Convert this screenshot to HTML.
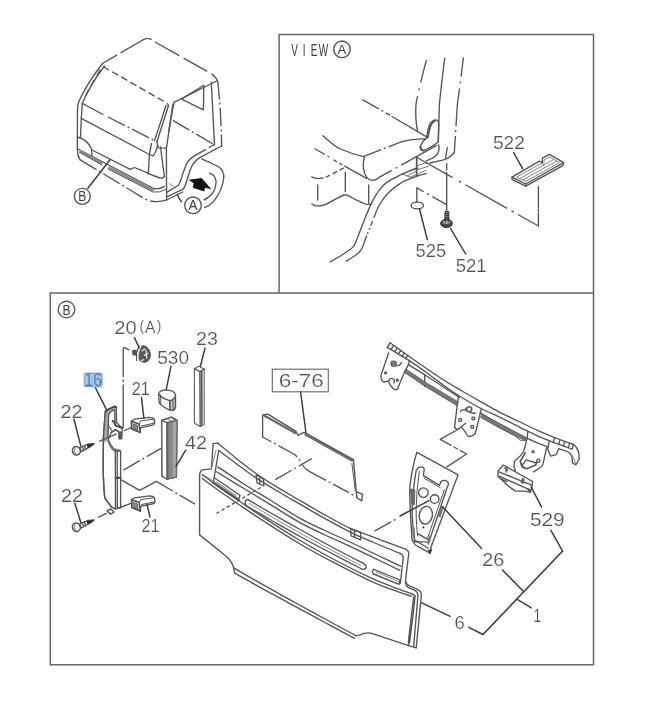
<!DOCTYPE html>
<html lang="en"><head><meta charset="utf-8"><title>Parts diagram</title>
<style>
html,body{margin:0;padding:0;background:#fff;}
body{width:658px;height:713px;overflow:hidden;font-family:"Liberation Sans",sans-serif;}
svg{display:block}
.f{fill:none;stroke:#666;stroke-width:1.5}
.l{fill:none;stroke:#555;stroke-width:1.35;stroke-linecap:round;stroke-linejoin:round}
.w{fill:#fff;stroke:#555;stroke-width:1.35;stroke-linejoin:round}
.h{fill:none;stroke:#7a7a7a;stroke-width:.9}
.ld{fill:none;stroke:#3c3c3c;stroke-width:1.45;stroke-linecap:round}
.sd{fill:none;stroke:#555;stroke-width:1.35;stroke-dasharray:3.5 2.5}
.d{fill:none;stroke:#555;stroke-width:1.35;stroke-dasharray:19 3 2 3}
.da{fill:none;stroke:#555;stroke-width:1.35;stroke-dasharray:9 3}
.k{fill:none;stroke:#444;stroke-width:2}
.g{fill:#9a9a9a;stroke:none}
.b{fill:#111;stroke:none}
.t{font-family:"Liberation Sans",sans-serif;fill:#505050;stroke:#fff;stroke-width:.2;paint-order:fill}
.t{filter:grayscale(1)}
.c{font-family:"Liberation Sans",sans-serif;fill:#3c3c3c;filter:grayscale(1)}
</style></head><body>
<svg width="658" height="713" viewBox="0 0 658 713">
<rect width="658" height="713" fill="#fff"/>
<g id="art" style="filter:blur(.55px)">
<g class="frame">
<path class="f" d="M279.1 293.1 V34.4 H593.5 V664.8 H50.3 V293.1 H593.5" />
</g>
<g id="truck">
<path class="da" d="M102.5 63.5 L141 41 Q144.5 38.6 147.8 38.4" style="stroke-dasharray:17 4 40"/>
<path class="da" d="M147.8 38.4 Q151 38.8 154 41.5 L211 73.5 Q216.5 77 217.7 82" style="stroke-dasharray:4 4 28 5 27 5 30"/>
<path class="da" d="M103 66.5 L165 102 Q169 104 168.5 106.5" style="stroke-dasharray:7 3.5"/>
<path class="l" d="M102.5 63.5 Q88 82 79 101 Q77.5 105 77.5 110 L77.3 150 Q77.5 156 80.2 160" />
<path class="l" d="M104.5 66 Q90 85 82.3 103.4 L81.3 118.3 L80.5 137" />
<path class="l" d="M100 70 L97 75 M94 80 L91 85.5 M88.5 90 L86 95" />
<path class="l" d="M82.3 103.4 L103 114.5" />
<path class="d" d="M108 117 L156.8 141.7" />
<path class="l" d="M81.3 118.3 L149.4 154.5" />
<path class="l" d="M168.5 105.5 L157 141.5 M166 105.5 L154.6 140.6" />
<path class="l" d="M156.8 141.7 L158.4 147.8 L166.4 148.2 M151.5 143.5 L149.4 154.5 L153 156 Q156.5 152 157.5 145" />
<path class="l" d="M77.5 137 Q88 140 91.5 149 L92 157.5" />
<path class="l" d="M92 150 L130.2 169.4 L134.5 167.5 L149.4 173.6" />
<path class="l" d="M149.4 154.5 L148.3 173.6 M160.5 147 L164.3 176" />
<path class="l" d="M78 149 L153.6 188.5 Q159 190 164.3 186.4" />
<path class="k" d="M79.8 150.8 L102.4 163.6 M108.5 167.4 L153.5 190.4" style="stroke:#8a8a8a;stroke-width:2.6"/>
<path class="l" d="M79.6 152.4 L102 165 M108 169 L153 192 Q159.5 193 165.5 189.6" style="stroke-width:1"/>
<path class="l" d="M148.3 173.6 L160 178 Q163 178.5 164.5 176.5" />
<path class="d" d="M80.2 159.8 L145.1 199.1 Q155 203.5 166.4 200.2" />
<path class="l" d="M166.4 148.1 L166.6 200" />
<path class="l" d="M174 102.3 L216.6 81 M174 102.3 Q170.5 120 166.4 148.1" />
<path class="l" d="M172.8 104.5 L168.8 131" />
<path class="l" d="M181.5 99.1 L203.8 85.3 L203.4 109.8 Z" />
<path class="l" d="M211.3 82.1 L214.5 144.9" />
<path class="d" d="M217.7 81 Q221 110 221.7 147" />
<path class="d" d="M173 120.4 L214.5 144.9" />
<path class="l" d="M221.5 146 L200.2 157.4 Q193.3 161.5 190.3 169.5 L186.5 181.7 Q184.5 188 182.7 189.3 L166.7 196.9" />
<path class="l" d="M214.6 144.4 L209 147.5" />
<path class="d" d="M206 149.3 L195.6 155.1" />
<path class="l" d="M195.6 155.1 Q188.5 159.5 186.5 164 L182.7 174.1 Q180 183 178.1 185.5 L166.7 192.3" />
<path class="l" d="M166.6 200 L182.7 192" />
<path class="h" d="M169 183.5 L174 186.5" />
<path class="l" d="M201.7 158.9 L218.4 166.5 Q224.5 171 223.7 178 Q222.5 190 213.8 201.4 Q209.5 206 204.7 207.5" />
<path class="l" d="M209.3 173.3 Q215 173.8 216.1 181.7 Q215.5 189 213.1 192.3 Q209.5 197.5 204 199.9" />
<path class="b" d="M188.7 179.8 L201.6 177.9 L211.5 189.3 L205 187.8 L204.3 191.6 L192.9 187.8 L193.6 183.2 Z" />
<path class="ld" d="M110 159.8 L87.7 188.5" />
<circle class="l" cx="82.3" cy="196.3" r="8"/>
<circle class="l" cx="193" cy="205.3" r="8.3"/>
<path class="ld" d="M177.4 194.6 Q179 199 181.5 201.8" />
<text class="c" x="78.3" y="201.4" font-size="14" textLength="8" lengthAdjust="spacingAndGlyphs" >B</text>
<text class="c" x="188.6" y="210.4" font-size="14" textLength="9" lengthAdjust="spacingAndGlyphs" >A</text>
</g>
<g id="viewa">
<path class="d" d="M426.4 60.2 Q419 88 416 104 Q415 118 417.5 131" style="stroke-dasharray:23 6 2 6 60"/>
<path class="l" d="M444.7 58.1 Q441 88 439.4 104 L438.3 142" />
<path class="d" d="M463.4 57.4 Q459.5 90 457.4 104 L454.3 152.8" style="stroke-dasharray:19 5 2 5 38 4 2 4 30"/>
<path class="l" d="M454.3 152.8 Q449 158.5 442.6 160.2 L430 163" />
<path class="l" d="M447.3 147.7 L445.5 158" />
<path class="l" d="M426.6 137.9 Q428 128 429.8 124 Q432 120.3 435.1 119.8 Q438.5 120 438.7 123 L438.3 142.1 Q431 148 423.4 150.6 Q419.5 150 420.2 146.4 Q422 141.5 426.6 137.9 Z" />
<path class="l" d="M427.9 137.6 Q429.5 128 431.3 124.4 Q433 121.4 435 120.8" style="stroke-width:1.8"/>
<path class="l" d="M420.6 146.8 Q421 150.5 423.6 150.6" style="stroke-width:1.8"/>
<path class="d" d="M362.3 99.6 L390 115.2" />
<path class="l" d="M392 116.5 L426.6 136.8" />
<path class="l" d="M400.6 142.1 Q414 138.5 425.5 138.9" />
<path class="l" d="M323 135.7 Q332 144 339 148.5 Q351 153.5 363.4 156.6" />
<path class="d" d="M363.4 156.6 L400.6 142.1" />
<path class="l" d="M364.5 157 Q362.8 163 363.4 167.7 Q364 173.5 366.6 177.2 Q369 180.5 373.5 180.4 Q377 179.5 379.4 177.2" />
<path class="d" d="M379.4 177.2 L437.1 145.2" style="stroke-dasharray:14 4.5 2 4.5 100"/>
<path class="d" d="M314.5 148.5 L332 158.6" style="stroke-dasharray:12 3 2 3 10"/>
<path class="sd" d="M333.5 159.8 L342.5 165" style="stroke-dasharray:4 2.5"/>
<path class="l" d="M344.6 166.2 L366.6 178.3" />
<path class="l" d="M311.8 176.8 C312.3 177.0 313.9 177.9 315.0 178.2 C316.1 178.5 317.2 178.6 318.5 178.6 C319.8 178.6 322.2 178.1 323.0 178.0" />
<path class="sd" d="M325.5 177.5 L343.8 167.9" style="stroke-dasharray:5 3"/>
<path class="l" d="M438.6 144.8 Q440.4 151 435.7 156 Q431.5 159.4 426.1 160.8" />
<path class="l" d="M317.7 185 V200 M345.3 172.3 V191.5 M368.7 185 V203.2" />
<path class="l" d="M311.8 204.1 C312.3 204.3 313.9 205.2 315.0 205.5 C316.1 205.8 316.8 206.1 318.5 205.9 C320.2 205.8 322.6 205.7 325.3 204.6 C328.1 203.5 331.8 201.0 335.0 199.4 C338.2 197.8 342.1 195.5 344.6 195.0 C347.1 194.5 348.2 195.8 350.0 196.6 C351.8 197.4 353.0 198.3 355.6 199.6 C358.2 200.8 363.1 203.3 365.7 204.1 C368.3 204.8 370.5 204.1 371.5 204.1" />
<path class="l" d="M417.7 168.1 C416.1 168.7 410.9 170.4 408.0 171.6 C405.1 172.8 403.4 173.5 400.0 175.2 C396.6 176.9 390.8 179.7 387.5 181.9 C384.2 184.1 382.4 186.3 380.5 188.6 C378.6 190.8 377.4 192.7 375.8 195.4 C374.2 198.1 372.8 199.9 370.7 204.6 C368.6 209.3 365.5 217.2 363.0 223.5 C360.5 229.8 357.2 238.7 355.6 242.5 C354.0 246.3 354.4 245.3 353.5 246.4 C352.6 247.5 352.8 247.6 350.5 249.2 C348.2 250.8 343.4 254.1 340.0 256.2 C336.6 258.3 331.9 260.9 330.3 261.9" />
<path class="l" d="M426.2 173.4 C423.8 174.2 416.4 176.3 412.0 178.0 C407.6 179.7 404.1 181.0 400.0 183.6 C395.9 186.2 391.0 190.0 387.5 193.7 C384.0 197.3 381.3 201.6 379.1 205.5 C376.9 209.4 374.9 215.2 374.1 217.2" />
<path class="d" d="M372.6 221 L367.4 234" style="stroke-dasharray:5 2.5 2 2.5 20"/>
<path class="l" d="M366.6 236.0 C365.9 237.9 363.6 244.7 362.3 247.5 C361.0 250.3 360.5 251.0 358.9 252.6 C357.3 254.2 354.6 255.9 352.5 257.3 C350.4 258.7 347.3 260.4 346.3 261.0" />
<path class="l" d="M416.7 157.4 V176.4" style="stroke-width:1.7"/>
<path class="l" d="M402.9 174 L416.6 167.6 M407 176 L416.6 171 M409.7 177.2 L416 175 M402.9 174 L409.7 177.2 M417.2 165.6 L427.5 162.2 M417.2 169.7 L428.8 166.2 M417.9 173.8 L426.1 170.4" style="stroke-width:.9;stroke:#666"/>
<path class="d" d="M417 157.5 L538.4 226" style="stroke-dasharray:41 7 2.5 5 48 5 2.5 5 60"/>
<path class="l" d="M538.4 226 V213 M538.4 207.5 V186.5" />
<path class="l" d="M538.4 211.5 V209" />
<path class="d" d="M446.7 163.2 V210.5" style="stroke-dasharray:7.3 1.6 60"/>
<path class="l" d="M416.8 201.8 V187.8" />
<path class="d" d="M416.8 187.8 L446.6 204.6" style="stroke-dasharray:8 4 2 4 60"/>
<ellipse class="l" cx="417.3" cy="205.5" rx="6.2" ry="3.4"/>
<path class="ld" d="M419.5 209 L427.3 239.5" />
<path class="g" d="M445 211.6 Q446.8 210.2 448.8 211.6 V221 H445 Z" style="fill:#777;stroke:#3a3a3a;stroke-width:1"/>
<path class="l" d="M445 213.5 H448.8 M445 215.5 H448.8 M445 217.5 H448.8 M445 219.5 H448.8" style="stroke-width:.8;stroke:#333"/>
<ellipse cx="446.5" cy="223.4" rx="5.9" ry="4.2" fill="#4a4a4a" stroke="#333" stroke-width="1"/>
<ellipse cx="446.5" cy="222.2" rx="3.4" ry="1.6" fill="#bbb"/>
<path class="l" d="M445.4 218 V222.6 M448.2 218 V222.6" style="stroke-width:1;stroke:#333"/>
<path class="ld" d="M450.6 228.6 L465.7 254" />
<path class="w" d="M512 177.1 L539.4 161.2 L542.4 162.7 L542.4 158.1 L549.3 154.3 L563.7 162.7 L562.9 165.7 L525.7 186.2 L512 179.4 Z" />
<path class="l" d="M512 177.1 L525.7 184 L563.7 162.7 M525.7 184 V186.2" />
<path class="h" d="M516.5 177.2 L541 163.4 L544 164.6 L544 160 L549.5 157 L559.5 162.6 L526 181.4 Z" />
<path class="h" d="M519.5 178.7 L553.8 159.4 M522.5 180.2 L556.6 161 " />
<path class="ld" d="M513.7 152.6 L522.7 168.8" />
</g>
<g id="leftparts">
<path class="l" d="M129 349.8 L124.6 347.6 Q123.3 347.4 123.2 349 V376.5 M123.2 385 V427.5" />
<path class="l" d="M123.2 380 V381.5" />
<g>
<path d="M132 350.2 L136.4 349.4 L136.6 355.8 L132.4 355.2 Z" fill="#555"/>
<ellipse cx="143.6" cy="354" rx="6.7" ry="8.4" transform="rotate(-14 143.6 354)" fill="#5a5a5a" stroke="#444" stroke-width=".8"/>
<path d="M140.6 346.2 Q136.7 352.5 138 360.6" fill="none" stroke="#f4f4f4" stroke-width="1.8" stroke-linecap="round"/>
<path d="M139.2 345.9 Q135.1 352.6 136.6 361" fill="none" stroke="#4a4a4a" stroke-width="1"/>
<path d="M142.2 350.8 L144.6 348.8 M144.6 355.4 L147.8 353.4 M141.4 360.8 L143.6 359.6 M145.8 350 L146.8 358" fill="none" stroke="#e0e0e0" stroke-width="1.3" stroke-linecap="round"/>
</g>
<path class="ld" d="M134.4 337.6 L139.2 347.8" />
<path class="w" d="M158.6 393.8 Q159.5 390.4 165.4 389.9 Q174.5 390.2 175.5 395 L175.5 407.3 Q174.5 410.6 172.1 410.7 Q167 409.6 164.3 407.3 Q160.5 404.8 159.2 402.8 Z" />
<path class="l" d="M160.6 395 L160.9 404.4" style="stroke-width:1"/>
<path class="l" d="M159.5 394.6 Q162 398.5 169.9 400.6 Q174 400 175.3 396.6" />
<path class="l" d="M169.9 400.6 V410" style="stroke-width:1.8"/>
<path class="l" d="M172.2 400.2 V410.4 M173.9 399.2 V409.6" style="stroke-width:1"/>
<path class="ld" d="M170.9 366.3 L166.3 389.3" />
<path class="w" d="M194.4 368.7 L198.9 366.3 L204.3 369.2 V424.8 L200.2 426.5 L194.4 423.3 Z" style="stroke:#5e5e5e;stroke-width:1.1"/>
<path class="g" d="M199.8 371.5 L204.3 369.2 V424.8 L200.2 426.5 Z" style="fill:#c4c4c4"/>
<path class="l" d="M194.4 368.7 L199.8 371.5 L204.3 369.2 M199.8 371.5 L200.2 426.5 M201.6 371 L201.9 425.6" />
<path class="ld" d="M205 348.1 L200.4 366.2" />
<path class="w" d="M161.6 420.3 L171.4 417.2 L177 420.3 L176.4 477 L167 479.2 L161.8 476 Z" />
<defs><linearGradient id="g42" x1="0" x2="1" y1="0" y2="0"><stop offset="0" stop-color="#6e6e6e"/><stop offset=".35" stop-color="#8e8e8e"/><stop offset="1" stop-color="#b4b4b4"/></linearGradient></defs>
<path class="g" d="M166.8 422.6 L177 420.3 L176.4 477 L167 479.2 Z" style="fill:url(#g42)"/>
<path class="l" d="M161.6 420.3 L166.8 422.6 L177 420.3 M166.8 422.6 L167 479.2" />
<path class="h" d="M167.2 419.2 L171.6 420.9 M171.4 417.2 L173.2 420" />
<path class="h" d="M168.8 423 V478.6 M171.5 422.4 V478" style="stroke:#777;stroke-width:.7"/>
<path class="l" d="M161.6 420.3 L171.4 417.2 L177 420.3 L176.4 477 L167 479.2 L161.8 476 Z" style="stroke:#6a6a6a"/>
<path class="ld" d="M185.8 449.9 L175.9 466.6" />
<path class="w" d="M131.4 421.2 L134.4 419.2 L149.3 417.3 Q153.0 417.3 154.2 419.1 L154.8 423.4 L153.6 424.9 L140.4 427.8 L140.2 432.5 L131.7 428.8 Z" />
<path class="l" d="M131.4 421.2 L139.0 424.0 L140.2 432.5 L131.7 428.8 Z" style="stroke-width:1.6"/>
<path class="l" d="M139.0 424.0 L140.8 420.9 L153.6 419.1 M141.2 426.0 L153.8 423.2" style="stroke-width:1"/>
<path class="g" d="M133.3 423.8 L137.3 425.3 L137.9 430.0 L133.7 428.3 Z" style="fill:#8a8a8a;stroke:#555;stroke-width:.8"/>
<path class="w" d="M131.6 499.8 L134.6 497.8 L149.5 495.9 Q153.2 495.9 154.4 497.7 L155.0 502.0 L153.8 503.5 L140.6 506.4 L140.4 511.1 L131.9 507.4 Z" />
<path class="l" d="M131.6 499.8 L139.2 502.6 L140.4 511.1 L131.9 507.4 Z" style="stroke-width:1.6"/>
<path class="l" d="M139.2 502.6 L141.0 499.5 L153.8 497.7 M141.4 504.6 L154.0 501.8" style="stroke-width:1"/>
<path class="g" d="M133.5 502.4 L137.5 503.9 L138.1 508.6 L133.9 506.9 Z" style="fill:#8a8a8a;stroke:#555;stroke-width:.8"/>
<path class="ld" d="M141.5 397.6 L143.9 418.3" />
<path class="ld" d="M146.9 504.2 L150 517" />
<path class="w" d="M105.2 411.8 Q109 408.3 114.4 406.6 Q116.1 406.5 116.3 408.4 L116.5 422.6 L122.3 428.2 L121.8 438.7 L119 438.7 L118.8 431.8 L115.4 429.6 L111.2 432.5 L108.2 439.6 Q109.5 445 111.8 447.8 Q113.5 450 115.3 450.5 L120.6 451 L120.6 507.7 L115.3 508.9 L111.5 507 L104.8 498.2 Q103.4 485 103.2 468 Q103.1 455 103.4 442.6 L103.5 436.2 Z" />
<path class="g" d="M105.2 411.8 L103.5 436.2 L102.7 443 L106.5 441.5 L107.9 436.5 L108.6 414.5 Q110 411.5 114.8 409.6 L114.4 406.6 Q109 408.3 105.2 411.8 Z" style="fill:#a8a8a8"/>
<path class="k" d="M105.2 411.8 Q109 408.3 114.4 406.6 Q116.1 406.5 116.3 408.4" />
<path class="l" d="M108.6 414.5 Q110 411.5 114.8 409.6 L115 421" />
<path class="l" d="M108.6 414.5 L108 436.5 M105.2 411.8 L103.5 436.2" />
<path class="k" d="M111.9 420.6 L114.4 421.9 L115.3 425.3 L122.3 428.2" />
<path class="g" d="M119 431.8 H121.7 V438.7 H119 Z" style="fill:#555"/>
<path class="l" d="M111.2 432.5 L115.4 429.6 L118.8 431.8 M109.5 427 L111.5 430" />
<path class="g" d="M108.2 439.6 Q109.5 445 111.8 447.8 Q113.5 450 115.3 450.5 L115.5 453 L111.5 449.5 Q108.5 445.5 107 441 Z" style="fill:#a8a8a8"/>
<path class="l" d="M108.2 439.6 Q109.5 445 111.8 447.8 Q113.5 450 115.3 450.5 L120.6 451" />
<path class="k" d="M108.8 441 Q110.5 446.5 113.5 449 Q115 450.2 119.5 450.6" style="stroke:#777;stroke-width:2.4"/>
<path class="l" d="M115.3 450.5 L115.5 508.6 M117.2 451 L117.4 508.3" />
<path class="k" d="M115.8 477.8 H121.2" />
<path class="l" d="M103.5 436.2 L103.4 442.6 Q103.1 455 103.2 468 Q103.4 485 104.8 498.2 L111.5 507 L115.3 508.9 L120.6 507.7" />
<path class="l" d="M107 510.9 L110.8 509 L114 512.1 L110.8 514.1 Z" style="stroke-width:1.4"/>
<path class="ld" d="M95.5 387.8 L106.6 409.8" />
<path class="w" d="M79.6 447.6 L88 444 L94.2 443.6 L90.4 446.6 L81.4 451.6 Z" />
<path class="b" d="M86.6 444.6 L94.2 443.6 L90.4 446.6 L87.6 448 Z" style="fill:#2a2a2a"/>
<path class="l" d="M82.2 446.6 L83.6 450.2 M84.3 445.7 L85.7 449.2" style="stroke-width:1.4"/>
<ellipse class="w" cx="76.4" cy="450.8" rx="3.9" ry="4.2" transform="rotate(-20 76.4 450.8)" style="stroke-width:1.6"/>
<path class="h" d="M75 448 Q73.6 451 75.6 453.6" />
<path class="w" d="M79.6 524.0 L88 520.4 L94.2 520.0 L90.4 523.0 L81.4 528.0 Z" />
<path class="b" d="M86.6 521.0 L94.2 520.0 L90.4 523.0 L87.6 524.4 Z" style="fill:#2a2a2a"/>
<path class="l" d="M82.2 523.0 L83.6 526.6 M84.3 522.1 L85.7 525.6" style="stroke-width:1.4"/>
<ellipse class="w" cx="76.4" cy="527.2" rx="3.9" ry="4.2" transform="rotate(-20 76.4 527.2)" style="stroke-width:1.6"/>
<path class="h" d="M75 524.4 Q73.6 527.4 75.6 530.0" />
<path class="ld" d="M74 419.3 L80.8 445.9" />
<path class="ld" d="M74.8 503.3 L80.8 522.3" />
<path class="d" d="M99.1 441.4 L131 427.7" />
<path class="l" d="M98.6 517.2 L106.4 513.4 M121.2 507 L131 503.3" />
<path class="d" d="M123.4 470.2 L161 448.4" />
<path class="l" d="M120.8 479.6 L139.6 490.3 L156.4 481.4" />
<path class="d" d="M156.4 481.4 L195 504.1" />
</g>
<g id="grille">
<rect class="f" x="272.3" y="369.2" width="56" height="22.6" style="stroke-width:1.1"/>
<path class="ld" d="M300.6 391.9 L306 433" />
<path class="l" d="M262.6 437 V415 L267.8 414.1 L296 431.4 L297.9 435.3 L304.2 432.4 L353.5 459.7 L356.2 491.6 L362.6 494.4 L361.7 500.8 L357.1 498 L356.2 491.6" />
<path class="k" d="M264 415.6 L296.2 433.4 M304.6 434 L352.8 461" style="stroke:#6a6a6a;stroke-width:2.3"/>
<path class="l" d="M351.9 463.4 L355.3 490.7" style="stroke-width:1"/>
<path class="d" d="M262.6 437 L294.2 454.2 Q298.5 457.5 300.6 462.4 Q304 468.5 309.7 471.6 L357.1 497.1" style="stroke-dasharray:10 3 2 3 22 3 2 3 30 3 2 3 18 3 2 3 30"/>
<path class="l" d="M213.2 443.6 L217.8 443.2" />
<path class="l" d="M217.8 443.2 C221.0 445.8 230.5 453.8 237.0 459.0 C243.5 464.2 250.2 469.4 257.0 474.2 C263.8 479.0 270.8 483.2 278.0 487.6 C285.2 492.0 292.2 495.9 300.0 500.5 C307.8 505.1 316.5 510.3 325.0 515.0 C333.5 519.7 345.2 526.0 351.1 528.9 C357.0 531.8 355.3 530.4 360.6 532.4 C365.9 534.4 375.6 538.0 383.0 540.8 C390.4 543.6 401.6 547.7 405.3 549.1" />
<path class="l" d="M405.3 549.1 Q409 550.5 408.7 554 L405.5 580.5 Q405.8 584.3 408.9 585.7 L417.9 589.7 Q421.6 591.5 421.3 595.5 L416.2 647.9" />
<path class="l" d="M405.3 581.3 Q405.6 585.8 408 587.4 L415.2 590.6 Q418.2 592.3 417.9 596 L413.7 646.4" />
<path class="l" d="M213.2 443.6 L211.4 468.9 L202.3 469.8 Q199.8 471 199.6 475 L199.6 534.9 L226.2 556.2 Q232.5 562 233.6 567.9 L234.7 573.2" />
<path class="l" d="M218.7 450.5 C221.8 452.8 230.8 459.6 237.0 464.2 C243.2 468.8 249.3 473.3 256.1 477.9 C262.9 482.4 270.7 487.1 278.0 491.5 C285.3 495.9 292.2 499.7 300.0 504.2 C307.8 508.7 316.5 513.9 325.0 518.6 C333.5 523.3 342.8 528.5 351.1 532.6 C359.4 536.7 366.9 539.5 375.0 543.0 C383.1 546.5 395.8 551.7 400.0 553.4" />
<path class="l" d="M400 553.4 Q403.6 555 403.2 558 L400.3 583.5" />
<path class="l" d="M218.7 450.5 L213.4 482" />
<path class="h" d="M216.2 449.5 L211.4 468.9" />
<path class="l" d="M217.8 466.9 C222.0 469.7 234.3 478.0 243.0 483.5 C251.7 489.0 260.5 494.2 270.0 500.0 C279.5 505.8 290.8 513.2 300.0 518.3 C309.2 523.4 316.7 526.5 325.0 530.5 C333.3 534.5 341.7 538.1 350.0 542.0 C358.3 545.9 366.6 550.0 375.0 554.0 C383.4 558.0 396.3 564.2 400.6 566.2" />
<path class="l" d="M216.6 471.8 C221.0 474.5 234.1 482.6 243.0 488.0 C251.9 493.4 260.5 498.5 270.0 504.3 C279.5 510.1 290.8 517.5 300.0 522.6 C309.2 527.7 316.7 531.0 325.0 535.0 C333.3 539.0 341.7 542.4 350.0 546.3 C358.3 550.2 366.7 554.3 375.0 558.3 C383.3 562.3 395.7 568.4 399.8 570.4" />
<path class="l" d="M213.2 482.5 L237 498.6" style="stroke-width:2.2"/>
<path class="l" d="M215 478.2 L240 495.3 L238.6 499.8 L236.8 498.8" />
<path class="h" d="M216 481.5 L236.5 495.6" />
<path class="l" d="M256.1 475.1 L263.4 478.8 L263.9 486 L257 482.8 Z M259.4 476.8 L259.8 484" />
<path class="l" d="M350.6 528.5 L360.6 532.4 V539.8 L351.1 535.9 Z M354.6 530.2 V537.2" />
<path class="l" d="M248.0 499.6 C251.7 501.8 261.3 507.5 270.0 512.5 C278.7 517.5 290.0 523.9 300.0 529.5 C310.0 535.1 319.4 540.3 330.0 546.0 C340.6 551.7 358.2 560.7 363.8 563.6 Q367 566 366 568 Q364.5 570.2 361.7 569" />
<path class="l" d="M361.7 569.0 C356.4 566.2 340.3 557.9 330.0 552.5 C319.7 547.1 310.0 542.0 300.0 536.5 C290.0 531.0 278.8 524.5 270.0 519.5 C261.2 514.5 251.2 508.7 247.5 506.5 Q244.5 504.5 245.3 501.5 Q246 499 248 499.6" />
<path class="h" d="M249.0 503.3 C252.5 505.4 261.5 510.8 270.0 515.8 C278.5 520.8 290.0 527.4 300.0 533.0 C310.0 538.6 319.8 543.8 330.0 549.3 C340.2 554.8 355.8 563.0 361.0 565.8" />
<path class="l" d="M373.8 569.3 L400 580 L399 584.3 L373.6 574 Q371 571 373.8 569.3 Z" />
<path class="h" d="M376 572 L398.5 581.5" />
<path class="l" d="M202.3 474.6 C205.2 476.8 213.9 483.6 220.0 488.0 C226.1 492.4 231.4 495.7 238.9 500.8 C246.4 505.9 254.8 511.9 265.0 518.5 C275.2 525.1 288.3 533.6 300.0 540.5 C311.7 547.4 323.3 553.8 335.0 560.0 C346.7 566.2 360.7 573.2 370.2 577.6 C379.7 582.0 385.0 583.9 392.0 586.6 C399.0 589.3 408.7 592.7 412.0 593.9" />
<path class="l" d="M202.3 478.5 C205.2 480.7 213.9 487.2 220.0 491.5 C226.1 495.8 231.4 499.4 238.9 504.5 C246.4 509.6 254.8 515.4 265.0 522.0 C275.2 528.6 288.3 537.1 300.0 544.0 C311.7 550.9 323.5 557.2 335.0 563.2 C346.5 569.2 359.5 575.9 369.0 580.3 C378.5 584.7 385.0 587.0 392.0 589.6 C399.0 592.2 408.0 595.1 411.2 596.2" />
<path class="h" d="M205.9 476 L238.8 498.8" />
<path class="l" d="M412 593.9 L415.2 595.8 L412.9 615.8 L409.5 642.8 L407.8 645.3 M413.6 597 L411.4 616 L408.3 642.5" />
<path class="l" d="M233.6 567.9 C238.3 570.6 251.8 578.4 262.0 584.2 C272.2 590.0 284.5 596.7 295.0 602.5 C305.5 608.3 314.9 613.5 325.0 619.0 C335.1 624.5 350.6 632.8 355.7 635.5 Q358 636.2 363.2 633.6 Q367.5 632.4 371.7 633.4 L407.8 645.3 L416.2 647.9" />
<path class="l" d="M234.7 573.2 C239.2 575.7 251.9 582.8 262.0 588.3 C272.1 593.8 284.5 600.6 295.0 606.3 C305.5 612.0 315.1 617.1 325.0 622.5 C334.9 627.9 349.6 635.8 354.5 638.4" />
<path class="sd" d="M216.3 513.5 L262.6 486.4" />
<path class="d" d="M275.2 479.7 L311.7 458.7" />
</g>
<g id="rail">
<path class="l" d="M390.1 342.8 C394.4 345.9 407.1 355.1 416.0 361.3 C424.9 367.5 435.9 375.1 443.6 380.0 C451.3 384.9 455.9 387.4 462.0 391.0 C468.1 394.6 473.8 397.8 480.1 401.3 C486.4 404.9 493.4 408.9 500.0 412.3 C506.6 415.8 513.7 418.9 520.0 422.0 C526.3 425.1 532.2 428.0 538.0 430.6 C543.8 433.2 548.7 435.3 554.7 437.6 C560.7 439.9 570.7 443.4 573.9 444.5 Q577.5 447.5 578.7 452.7 L579.3 458.8 L575.9 465 L572.5 462.9 L571.8 456.1 Q570 452.5 567 451.3 L558.8 448.8" />
<path class="l" d="M387.3 347.3 C390.9 349.5 402.9 356.6 409.2 360.6 C415.5 364.6 419.9 367.8 425.0 371.5 C430.1 375.2 434.5 378.7 440.0 382.6 C445.5 386.6 451.5 391.0 458.2 395.2 C464.9 399.4 473.1 404.3 480.1 408.0 C487.1 411.7 493.4 414.1 500.0 417.3 C506.6 420.5 513.7 424.2 520.0 427.3 C526.3 430.4 532.4 433.7 538.0 436.2 C543.6 438.7 550.8 441.4 553.4 442.4" />
<path class="l" d="M390.1 342.8 L387.3 347.3" />
<path class="l" d="M393.7 345.3 L391 349.6 M397.3 347.8 L394.6 351.9 M400.9 350.3 L398.2 354.1 M404.5 352.8 L401.8 356.3 M408.1 355.3 L405.4 358.5" />
<path class="l" d="M553.4 442.4 L554.4 438.3 M558.8 444.6 L559.8 440.4 M563.6 446.3 L564.6 442.2 M568.4 448 L569.4 443.8 M572.2 449.2 L573.2 445 M553.4 442.4 L572.2 449.2" />
<path class="l" d="M408.3 364.7 L424.7 374.7 L459.4 397.5" />
<path class="l" d="M480.1 412.8 C483.4 414.7 492.1 419.8 500.0 424.0 C507.9 428.2 519.4 434.4 527.4 438.3 C535.4 442.2 544.5 445.7 547.9 447.2" />
<path class="l" d="M527.8 432 L527.2 439 M549.2 441 L547.9 447.9" />
<path class="l" d="M547.2 447.9 L550.6 456.1 L556.1 454.7 L558.8 448.8" />
<path class="l" d="M424.7 374.7 V386.5 M409.6 360.5 L408.3 364.7 L406 369.5" />
<path class="k" d="M404.9 370.6 L424.7 384 L457.8 404" style="stroke:#777;stroke-width:3.4"/>
<path class="l" d="M404.3 372.3 L424.5 385.9 L457.2 405.8 M405.6 368.8 L424.9 381.9 L458.3 402" style="stroke-width:.9"/>
<path class="k" d="M481.0 415.6 C484.2 417.4 494.2 423.2 500.0 426.4 C505.8 429.6 511.7 432.8 516.0 435.0 C520.3 437.2 524.3 439.1 526.0 439.9" style="stroke:#777;stroke-width:3.2"/>
<path class="l" d="M480.6 417.3 C483.8 419.1 494.0 425.0 500.0 428.2 C506.0 431.4 513.7 435.2 516.4 436.6 L520.5 440.6 L526.4 439.9" style="stroke-width:.9"/>
<path class="h" d="M567 451.3 Q573.5 454 575.9 465" />
<path class="w" d="M388.8 352.5 L380.9 375.6 Q380.8 380.8 383.7 382 L388.2 381.1 Q389.5 384.5 392.8 388.4 Q395.5 390.5 397.4 389.3 L405.6 369.2" />
<circle class="l" cx="393.7" cy="363.7" r="2.6"/><circle class="l" cx="393.7" cy="363.7" r="1.1"/>
<circle class="l" cx="385.6" cy="372.9" r="1"/><circle class="l" cx="397.3" cy="380.2" r="1"/>
<path class="l" d="M396.5 365.5 Q400 366 401.5 362.5 M388.8 381 Q390 377.5 393 378.8 Q395 380 394 383" />
<path class="l" d="M458.4 396 L454.6 426.8 Q455.5 429.6 458.2 429.2 L465.5 423.5 M461.5 427.5 Q464.5 430 467.6 435.8 Q471 438 475.3 433.5 L481.3 409.2" />
<circle class="l" cx="469.2" cy="409.2" r="2.5"/>
<circle class="l" cx="460.2" cy="419.9" r="1.5"/><circle class="l" cx="473.4" cy="418.3" r="1.5"/><circle class="l" cx="472.2" cy="426.8" r="1.5"/>
<path class="l" d="M460.5 411.8 Q461.5 409 464 409.8 Q466.5 411.5 465.5 408.2 M469.5 412 Q472 413.8 475.5 413" />
<path class="l" d="M458.6 429 L440.2 439.4 L451 445.4 M454 447 L457.5 449 M460.5 450.6 L466.7 454 L446.8 466.9" />
<path class="l" d="M526.7 439.7 Q525.5 447 523.3 452 Q520 457 514.5 461.3 L513.9 466.6 L515.5 470.9 M546.5 447.9 L543.2 463.4 Q542 466.3 540 467.7 L533.6 471.9" />
<path class="l" d="M525.1 452.8 L520.3 461.3 L521.9 466.6 L526.7 468.7 L535.7 465 L536.8 461.8" style="stroke-width:1.7"/>
<path class="l" d="M526.2 459.9 L521.9 465.5 M526.2 459.9 L536.5 463" />
<circle cx="533.1" cy="451.7" r="1.7" fill="#666"/><circle class="l" cx="538.4" cy="460.7" r="1.6"/>
<path class="w" d="M503.3 465 L532.6 481.5 L532 486.8 L530.4 492.1 L524 491.1 L515.5 491.1 Q510.5 488 507 484.7 L500.6 478.8 L498 476.2 V470.9 Z" />
<path class="l" d="M499 471.9 L531.5 485.2 M499.6 476.4 L530.6 490.2 M500.6 478.8 L507 481.6" />
<path class="l" d="M505 468.2 L507.5 470.2 M506.5 467.2 L506 472" style="stroke-width:1.6"/>
<path class="l" d="M522.5 478.3 L521.5 482.6 M524 479 L523 483.3" />
<path class="l" d="M530.4 492.1 L527.5 488.8" style="stroke-width:1.6"/>
<path class="w" d="M416.9 452.3 L458.1 474.8 L430.6 548.2 L431.5 549.8 L429.8 553.1 L415.3 545 L412.1 540.2 Q409.9 510 409.7 488.5 Q411.8 468 416.9 452.3 Z" />
<path class="l" d="M416.1 470.8 Q417.5 467.2 420.2 466.8 Q424 467 424.2 469.2 L423.4 475.6 L439.5 485.3 L441.1 481.3 Q443 480.2 446 480.5 Q448.8 482 448.4 484.5 L446.8 488.5 L429 541.8 L414.5 541.8 Q412 520 412.1 509.5 Q413 488 416.1 470.8 Z" />
<path class="l" d="M419.3 471.5 Q416.5 490 416.1 509.5 Q416.3 528 417.7 536 M444.4 489.6 L427.4 538.6" style="stroke-width:1"/>
<path class="l" d="M424.2 478.2 L440.3 487.7" style="stroke-width:1"/>
<circle class="l" cx="423.4" cy="492.6" r="4.8"/><circle class="l" cx="434.7" cy="499" r="4.3"/>
<ellipse class="l" cx="425.8" cy="515.2" rx="6.5" ry="8.9" transform="rotate(10 425.8 515.2)"/>
<circle cx="423.4" cy="527.3" r="1.1" fill="#444"/>
<path class="g" d="M409.9 488.6 L415.3 489.4 L414.9 505 L411 504.4 Z" style="fill:#6a6a6a"/>
<path class="g" d="M443.9 506.4 L440.6 517.6 L437.9 516.4 L441.4 505.6 Z" style="fill:#777"/>
<path class="g" d="M412.2 527 L414.6 527.4 L415.3 538.5 L413 538 Z" style="fill:#777"/>
<path class="g" d="M429.3 535.3 L431.5 536.4 L428.8 545 L427.2 544 Z" style="fill:#777"/>
<path class="l" d="M417.7 533.7 L429 540.2 M415.3 540.2 L428.2 548.2" />
<path class="b" d="M427.4 549.8 L431.5 549.8 L430.6 554.6 Z" style="fill:#333"/>
<path class="ld" d="M400 516 L429 500.6" />
<path class="d" d="M374.5 531.1 L398 518" />
</g>
<g id="labels">
<text class="c" font-size="15.6" text-anchor="middle" transform="scale(.64 1)" x="460.2 475.2 490.6 505.5" y="55.7">VIEW</text>
<circle class="l" cx="342" cy="49.3" r="8.3"/>
<text class="c" x="337.6" y="54.2" font-size="13.6" textLength="8.8" lengthAdjust="spacingAndGlyphs" >A</text>
<text class="t" x="492.9" y="149" font-size="18.4" textLength="32" lengthAdjust="spacingAndGlyphs" >522</text>
<text class="t" x="415.6" y="256.8" font-size="18.4" textLength="30.6" lengthAdjust="spacingAndGlyphs" >525</text>
<text class="t" x="455.8" y="271.8" font-size="18.4" textLength="30.8" lengthAdjust="spacingAndGlyphs" >521</text>
<circle class="l" cx="66.5" cy="309.5" r="8.3"/>
<text class="c" x="62.5" y="314.5" font-size="14" textLength="8" lengthAdjust="spacingAndGlyphs" >B</text>
<text class="t" x="114.2" y="333.5" font-size="17.8" textLength="22.4" lengthAdjust="spacingAndGlyphs" >20</text>
<text class="t"><tspan x="139.5" y="330.7" font-size="13.8">(</tspan><tspan x="144.9" y="332.9" font-size="15.6">A</tspan><tspan x="156.8" y="330.7" font-size="13.8">)</tspan></text>
<text class="t" x="157.2" y="363.6" font-size="17.8" textLength="32" lengthAdjust="spacingAndGlyphs" >530</text>
<text class="t" x="196" y="345.3" font-size="18.4" textLength="21.8" lengthAdjust="spacingAndGlyphs" >23</text>
<text class="t" x="131.8" y="395.2" font-size="17.8" textLength="18" lengthAdjust="spacingAndGlyphs" >21</text>
<text class="t" x="60.4" y="417.8" font-size="18.4" textLength="22" lengthAdjust="spacingAndGlyphs" >22</text>
<text class="t" x="61.1" y="501.8" font-size="18.4" textLength="22" lengthAdjust="spacingAndGlyphs" >22</text>
<text class="t" x="141.6" y="532.2" font-size="17.8" textLength="18" lengthAdjust="spacingAndGlyphs" >21</text>
<text class="t" x="185.1" y="448.7" font-size="17.8" textLength="22" lengthAdjust="spacingAndGlyphs" >42</text>
<text class="t" x="278.8" y="387.2" font-size="18.4" textLength="45" lengthAdjust="spacingAndGlyphs" >6-76</text>
<text class="t" x="529.9" y="526" font-size="18.4" textLength="34.8" lengthAdjust="spacingAndGlyphs" >529</text>
<text class="t" x="482.3" y="566.2" font-size="18.4" textLength="22" lengthAdjust="spacingAndGlyphs" >26</text>
<text class="t" x="533.6" y="622.2" font-size="18.4" textLength="7.6" lengthAdjust="spacingAndGlyphs" >1</text>
<text class="t" x="454.6" y="629.4" font-size="18.4" >6</text>
<text class="t" x="84.6" y="386" font-size="17.6" textLength="17.4" lengthAdjust="spacingAndGlyphs" >16</text>
<rect x="84.2" y="373.1" width="17.9" height="13.7" rx="1.6" fill="rgba(70,140,215,.5)" stroke="rgba(70,140,215,.75)" stroke-width="1"/>
<path class="ld" d="M531.2 487 L541.6 507.1 M550.9 530.4 L562.6 551.1 L483 634.5 L468.8 627.3" />
<path class="ld" d="M442.7 507.1 L481.7 548.5 M502.4 569.9 L523 591.1 M517.3 599.4 L531.3 607.9" />
<path class="ld" d="M421.7 602.8 L450.2 616.4" />
</g>
</g>
</svg>
</body></html>
